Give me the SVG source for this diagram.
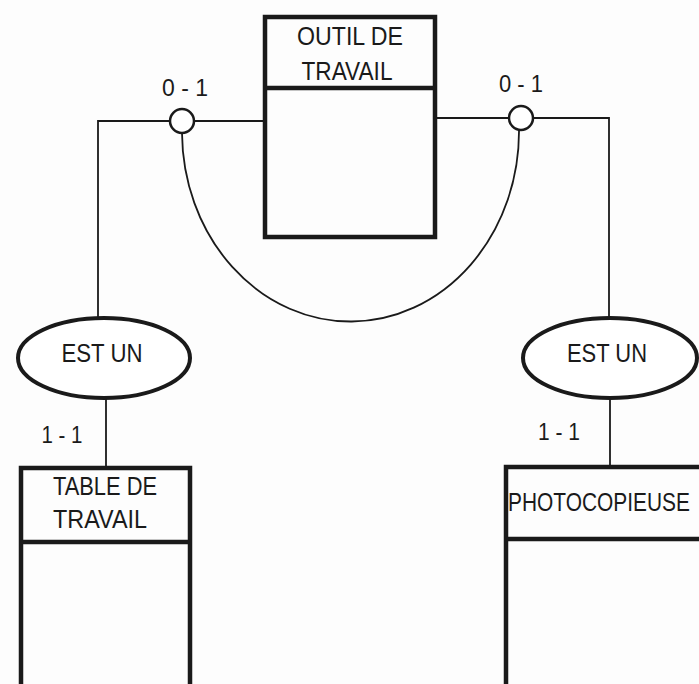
<svg xmlns="http://www.w3.org/2000/svg" width="699" height="684" viewBox="0 0 699 684">
<style>
.box{fill:none;stroke:#1a1a1a;stroke-width:4.5}
.ell{fill:#fff;stroke:#1a1a1a;stroke-width:4}
.ln{fill:none;stroke:#1a1a1a;stroke-width:1.8}
.circ{fill:#fff;stroke:#1a1a1a;stroke-width:2.5}
text{font-family:"Liberation Sans","DejaVu Sans",sans-serif;fill:#1a1a1a;font-size:25px;text-anchor:middle}
.card{font-size:23px}
</style>
<rect width="699" height="684" fill="#fdfdfd"/>
<g id="connectors">
<polyline class="ln" points="265,121 98,121 98,319"/>
<polyline class="ln" points="435,118 609,118 609,319"/>
<path class="ln" d="M182,133 A168.5,190 0 0 0 519,130"/>
<line class="ln" x1="106" y1="398" x2="106" y2="468"/>
<line class="ln" x1="610" y1="398" x2="610" y2="467"/>
<circle class="circ" cx="182" cy="121" r="12"/>
<circle class="circ" cx="521" cy="118" r="12"/>
<text class="card" x="185" y="96" textLength="46" lengthAdjust="spacingAndGlyphs">0 - 1</text>
<text class="card" x="521" y="92" textLength="44" lengthAdjust="spacingAndGlyphs">0 - 1</text>
<text class="card" x="62" y="443" textLength="41" lengthAdjust="spacingAndGlyphs">1 - 1</text>
<text class="card" x="559" y="440" textLength="42" lengthAdjust="spacingAndGlyphs">1 - 1</text>
</g>
<g id="outil">
<rect class="box" x="265" y="17" width="170" height="220"/>
<line class="box" x1="265" y1="88" x2="435" y2="88"/>
<text x="350" y="45" textLength="106" lengthAdjust="spacingAndGlyphs">OUTIL DE</text>
<text x="347" y="80" textLength="91" lengthAdjust="spacingAndGlyphs">TRAVAIL</text>
</g>
<g id="estun-left">
<ellipse class="ell" cx="104" cy="358" rx="86" ry="40"/>
<text x="102" y="362" textLength="81" lengthAdjust="spacingAndGlyphs">EST UN</text>
</g>
<g id="estun-right">
<ellipse class="ell" cx="610" cy="358" rx="87" ry="40"/>
<text x="607" y="362" textLength="80" lengthAdjust="spacingAndGlyphs">EST UN</text>
</g>
<g id="table">
<polyline class="box" points="21,690 21,468 190,468 190,690"/>
<line class="box" x1="21" y1="542" x2="190" y2="542"/>
<text x="105" y="495" textLength="104" lengthAdjust="spacingAndGlyphs">TABLE DE</text>
<text x="100" y="528" textLength="94" lengthAdjust="spacingAndGlyphs">TRAVAIL</text>
</g>
<g id="photocopieuse">
<polyline class="box" points="506,690 506,467 705,467"/>
<line class="box" x1="506" y1="539" x2="705" y2="539"/>
<text x="599" y="511" textLength="182" lengthAdjust="spacingAndGlyphs">PHOTOCOPIEUSE</text>
</g>
</svg>
